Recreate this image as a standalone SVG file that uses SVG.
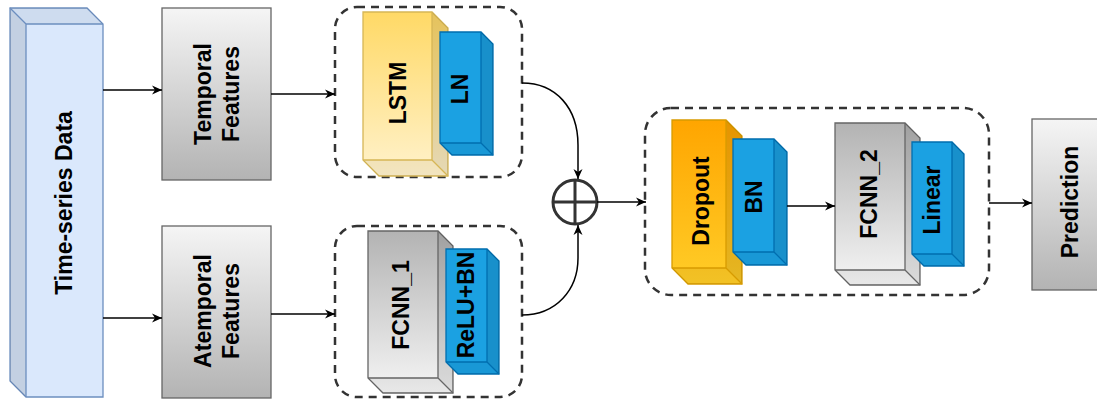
<svg xmlns="http://www.w3.org/2000/svg" width="1097" height="400" viewBox="0 0 1097 400">
  <style>
    .lbl { font-family: "Liberation Sans", Arial, sans-serif; font-weight: bold; font-size: 23px; fill: #000; text-anchor: middle; dominant-baseline: central; }
    .grp { fill: none; stroke: #333333; stroke-width: 2.5; stroke-dasharray: 8 6; }
    .edge { fill: none; stroke: #000; stroke-width: 1.5; }
    .shade1 { fill: #000; fill-opacity: 0.1; stroke: none; }
    .shade2 { fill: #000; fill-opacity: 0.05; stroke: none; }
    .blue { fill: #1ba1e2; stroke: #006eaf; stroke-width: 1.3; }
    .gray { stroke: #666666; stroke-width: 1.3; }
  </style>
  <defs>
    <linearGradient id="gDown" x1="0" y1="0" x2="0" y2="1">
      <stop offset="0" stop-color="#f5f5f5"/>
      <stop offset="1" stop-color="#b3b3b3"/>
    </linearGradient>
    <linearGradient id="gUp" x1="0" y1="0" x2="0" y2="1">
      <stop offset="0" stop-color="#b3b3b3"/>
      <stop offset="1" stop-color="#f5f5f5"/>
    </linearGradient>
    <linearGradient id="gYellow" x1="0" y1="0" x2="0" y2="1">
      <stop offset="0" stop-color="#ffd966"/>
      <stop offset="1" stop-color="#fff2cc"/>
    </linearGradient>
    <linearGradient id="gOrange" x1="0" y1="0" x2="0" y2="1">
      <stop offset="0" stop-color="#ffa500"/>
      <stop offset="1" stop-color="#ffcd28"/>
    </linearGradient>
    <marker id="arrow" markerUnits="userSpaceOnUse" markerWidth="11" markerHeight="10" refX="10" refY="5" orient="auto">
      <path d="M0,0.5 L10,5 L0,9.5 L3,5 Z" fill="#000"/>
    </marker>
  </defs>

  <!-- input cube, depth toward top-left -->
  <g id="timeseries">
    <path d="M10,8 H87 L103,24 V397 H26 L10,381 Z" fill="#dae8fc" stroke="#6c8ebf" stroke-width="1.3"/>
    <path d="M10,8 L26,24 V397 L10,381 Z" class="shade1"/>
    <path d="M10,8 H87 L103,24 H26 Z" class="shade2"/>
    <path d="M26,24 L10,8 M26,24 H103 M26,24 V397" fill="none" stroke="#6c8ebf" stroke-width="1.3"/>
    <text class="lbl" transform="translate(64,203) rotate(-90)">Time-series Data</text>
  </g>

  <g id="temporal">
    <rect x="162" y="8" width="109" height="172" fill="url(#gDown)" class="gray"/>
    <text class="lbl" transform="translate(203,94) rotate(-90)">Temporal</text>
    <text class="lbl" transform="translate(231,94) rotate(-90)">Features</text>
  </g>

  <g id="atemporal">
    <rect x="162" y="226" width="109" height="172" fill="url(#gDown)" class="gray"/>
    <text class="lbl" transform="translate(203,311) rotate(-90)">Atemporal</text>
    <text class="lbl" transform="translate(231,311) rotate(-90)">Features</text>
  </g>

  <!-- temporal branch -->
  <g id="lstm-group">
    <rect x="335" y="7" width="187" height="170" rx="22" class="grp"/>
    <g id="lstm">
      <path d="M363,12 H432 L448,28 V176 H379 L363,160 Z" fill="url(#gYellow)" stroke="#d6b656" stroke-width="1.3"/>
      <path d="M432,12 L448,28 V176 L432,160 Z" class="shade1"/>
      <path d="M363,160 H432 L448,176 H379 Z" class="shade2"/>
      <path d="M363,160 H432 V12 M432,160 L448,176" fill="none" stroke="#d6b656" stroke-width="1.3"/>
      <text class="lbl" transform="translate(398,93) rotate(-90)">LSTM</text>
    </g>
    <g id="ln">
      <path d="M440,32 H481 L493,44 V155 H452 L440,143 Z" class="blue"/>
      <path d="M481,32 L493,44 V155 L481,143 Z" class="shade1"/>
      <path d="M440,143 H481 L493,155 H452 Z" class="shade2"/>
      <path d="M440,143 H481 V32 M481,143 L493,155" fill="none" stroke="#006eaf" stroke-width="1.3"/>
      <text class="lbl" transform="translate(460,89) rotate(-90)">LN</text>
    </g>
  </g>

  <!-- atemporal branch -->
  <g id="fcnn1-group">
    <rect x="335" y="226" width="187" height="171" rx="22" class="grp"/>
    <g id="fcnn1">
      <path d="M368,231 H438 L453,246 V393 H383 L368,378 Z" fill="url(#gUp)" class="gray"/>
      <path d="M438,231 L453,246 V393 L438,378 Z" class="shade1"/>
      <path d="M368,378 H438 L453,393 H383 Z" class="shade2"/>
      <path d="M368,378 H438 V231 M438,378 L453,393" fill="none" stroke="#666666" stroke-width="1.3"/>
      <text class="lbl" transform="translate(401,305) rotate(-90)">FCNN_1</text>
    </g>
    <g id="relubn">
      <path d="M446,249 H487 L499,261 V374 H458 L446,362 Z" class="blue"/>
      <path d="M487,249 L499,261 V374 L487,362 Z" class="shade1"/>
      <path d="M446,362 H487 L499,374 H458 Z" class="shade2"/>
      <path d="M446,362 H487 V249 M487,362 L499,374" fill="none" stroke="#006eaf" stroke-width="1.3"/>
      <text class="lbl" transform="translate(466,305) rotate(-90)">ReLU+BN</text>
    </g>
  </g>

  <g id="sum">
    <circle cx="575" cy="202" r="22" fill="#fff" stroke="#333333" stroke-width="3"/>
    <path d="M575,180 V224 M553,202 H597" stroke="#333333" stroke-width="3"/>
  </g>

  <!-- head -->
  <g id="head-group">
    <rect x="645" y="108" width="344" height="187" rx="26" class="grp"/>
    <g id="dropout">
      <path d="M672,120 H726 L742,136 V284 H688 L672,268 Z" fill="url(#gOrange)" stroke="#d79b00" stroke-width="1.3"/>
      <path d="M726,120 L742,136 V284 L726,268 Z" class="shade1"/>
      <path d="M672,268 H726 L742,284 H688 Z" class="shade2"/>
      <path d="M672,268 H726 V120 M726,268 L742,284" fill="none" stroke="#d79b00" stroke-width="1.3"/>
      <text class="lbl" transform="translate(701,201) rotate(-90)">Dropout</text>
    </g>
    <g id="bn">
      <path d="M733,139 H774 L787,152 V265 H746 L733,252 Z" class="blue"/>
      <path d="M774,139 L787,152 V265 L774,252 Z" class="shade1"/>
      <path d="M733,252 H774 L787,265 H746 Z" class="shade2"/>
      <path d="M733,252 H774 V139 M774,252 L787,265" fill="none" stroke="#006eaf" stroke-width="1.3"/>
      <text class="lbl" transform="translate(754,197) rotate(-90)">BN</text>
    </g>
    <g id="fcnn2">
      <path d="M835,123 H905 L920,138 V285 H850 L835,270 Z" fill="url(#gUp)" class="gray"/>
      <path d="M905,123 L920,138 V285 L905,270 Z" class="shade1"/>
      <path d="M835,270 H905 L920,285 H850 Z" class="shade2"/>
      <path d="M835,270 H905 V123 M905,270 L920,285" fill="none" stroke="#666666" stroke-width="1.3"/>
      <text class="lbl" transform="translate(869,194) rotate(-90)">FCNN_2</text>
    </g>
    <g id="linear">
      <path d="M912,142 H952 L964,154 V266 H924 L912,254 Z" class="blue"/>
      <path d="M952,142 L964,154 V266 L952,254 Z" class="shade1"/>
      <path d="M912,254 H952 L964,266 H924 Z" class="shade2"/>
      <path d="M912,254 H952 V142 M952,254 L964,266" fill="none" stroke="#006eaf" stroke-width="1.3"/>
      <text class="lbl" transform="translate(932,200) rotate(-90)">Linear</text>
    </g>
  </g>

  <g id="prediction">
    <rect x="1032" y="119" width="76" height="171" fill="url(#gDown)" class="gray"/>
    <text class="lbl" transform="translate(1070,202) rotate(-90)">Prediction</text>
  </g>

  <!-- connectors -->
  <g id="connectors">
    <path class="edge" marker-end="url(#arrow)" d="M103,90 H162"/>
    <path class="edge" marker-end="url(#arrow)" d="M103,318 H162"/>
    <path class="edge" marker-end="url(#arrow)" d="M271,94 H335"/>
    <path class="edge" marker-end="url(#arrow)" d="M271,314 H335"/>
    <path class="edge" marker-end="url(#arrow)" d="M522,83 C556,83 578,108 578,145 V179"/>
    <path class="edge" marker-end="url(#arrow)" d="M522,315 C556,315 578,290 578,258 V225"/>
    <path class="edge" marker-end="url(#arrow)" d="M597,202 H646"/>
    <path class="edge" marker-end="url(#arrow)" d="M787,206 H835"/>
    <path class="edge" marker-end="url(#arrow)" d="M989,203 H1032"/>
  </g>
</svg>
